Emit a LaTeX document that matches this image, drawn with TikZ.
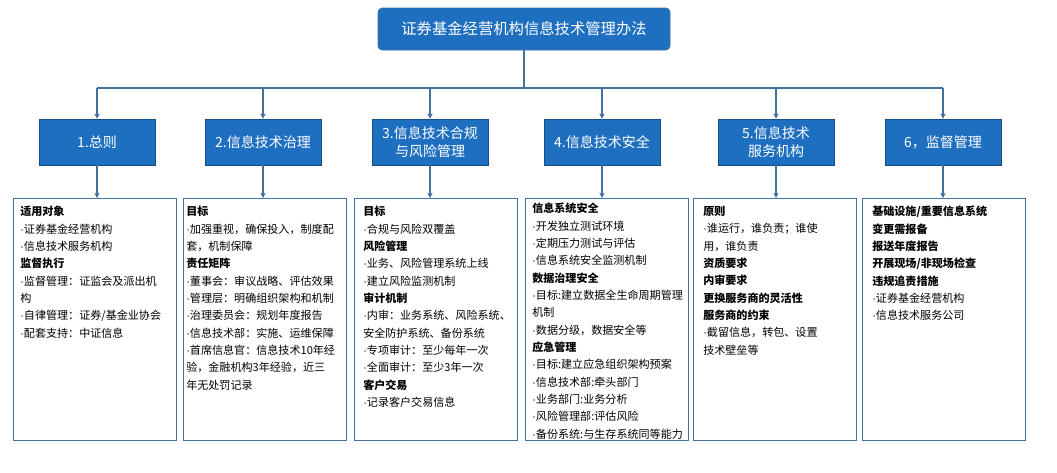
\documentclass[tikz,border=0pt]{standalone}
\usepackage{fontspec}
\setmainfont{Noto Sans CJK SC}
\newfontfamily\latf{Liberation Sans}
\newcommand\bul{{\latf ·}}
\usetikzlibrary{arrows.meta}
\XeTeXlinebreaklocale "zh"
\begin{document}
\begin{tikzpicture}[x=0.75pt,y=-0.75pt,
  hdr/.style={fill=hblue,draw=hblue!70!black,text=white,minimum width=116*0.75pt,minimum height=46*0.75pt,align=center,font=\fontsize{10.5}{13}\selectfont},
  body/.style={draw=lblue,thick,fill=white,minimum width=163*0.75pt,minimum height=242*0.75pt,anchor=north west},
  txt/.style={anchor=north west,align=left,inner sep=0pt,font=\fontsize{8.3}{13}\selectfont},
  conn/.style={draw=lblue,thick},
  arr/.style={conn,-{Stealth[length=4pt,width=4pt]}}]
\definecolor{hblue}{HTML}{1F6FC0}
\definecolor{lblue}{HTML}{41719C}
\useasboundingbox (0,0) rectangle (1057,472);
\node[fill=hblue,draw=lblue,rounded corners=3pt,text=white,minimum width=292*0.75pt,minimum height=42*0.75pt,font=\fontsize{11.5}{14}\selectfont] (t) at (524,29) {证券基金经营机构信息技术管理办法};
\coordinate (j) at (524,88);
\draw[conn] (t.south) -- (j);
\foreach \n/\x/\lab in {1/97/{1.总则},2/263/{2.信息技术治理},3/430/{3.信息技术合规\\与风险管理},4/602/{4.信息技术安全},5/776/{5.信息技术\\服务机构},6/943/{6，监督管理}}{
  \node[hdr] (h\n) at (\x,142) {\lab};
  \coordinate (c\n) at (\x,88);
  \draw[arr] (c\n) -- (h\n.north);
}
\draw[conn] (c1) -- (c6);
\foreach \n/\x in {1/13,2/183,3/354,4/525,5/693,6/862}{
  \node[body] (b\n) at (\x,198) {};
  \draw[arr] (h\n.south) -- (h\n.south |- b\n.north);
}
\node[txt] at ([xshift=7*0.75pt,yshift=-8*0.75pt]b1.north west) {\textbf{适用对象}\\\bul 证券基金经营机构\\\bul 信息技术服务机构\\\textbf{监督执行}\\\bul 监督管理：证监会及派出机\\构\\\bul 自律管理：证券/基金业协会\\\bul 配套支持：中证信息};
\node[txt] at ([xshift=3*0.75pt,yshift=-8*0.75pt]b2.north west) {\textbf{目标}\\\bul 加强重视，确保投入，制度配\\套，机制保障\\\textbf{责任矩阵}\\\bul 董事会：审议战略、评估效果\\\bul 管理层：明确组织架构和机制\\\bul 治理委员会：规划年度报告\\\bul 信息技术部：实施、运维保障\\\bul 首席信息官：信息技术10年经\\验，金融机构3年经验，近三\\年无处罚记录};
\node[txt] at ([xshift=9*0.75pt,yshift=-8*0.75pt]b3.north west) {\textbf{目标}\\\bul 合规与风险双覆盖\\\textbf{风险管理}\\\bul 业务、风险管理系统上线\\\bul 建立风险监测机制\\\textbf{审计机制}\\\bul 内审：业务系统、风险系统、\\安全防护系统、备份系统\\\bul 专项审计：至少每年一次\\\bul 全面审计：至少3年一次\\\textbf{客户交易}\\\bul 记录客户交易信息};
\node[txt] at ([xshift=7*0.75pt,yshift=-5*0.75pt]b4.north west) {\textbf{信息系统安全}\\\bul 开发独立测试环境\\\bul 定期压力测试与评估\\\bul 信息系统安全监测机制\\\textbf{数据治理安全}\\\bul 目标:建立数据全生命周期管理\\机制\\\bul 数据分级，数据安全等\\\textbf{应急管理}\\\bul 目标:建立应急组织架构预案\\\bul 信息技术部:牵头部门\\\bul 业务部门:业务分析\\\bul 风险管理部:评估风险\\\bul 备份系统:与生存系统同等能力};
\node[txt] at ([xshift=10*0.75pt,yshift=-8*0.75pt]b5.north west) {\textbf{原则}\\\bul 谁运行，谁负责；谁使\\用，谁负责\\\textbf{资质要求}\\\textbf{内审要求}\\\textbf{更换服务商的灵活性}\\\textbf{服务商的约束}\\\bul 截留信息，转包、设置\\技术壁垒等};
\node[txt] at ([xshift=10*0.75pt,yshift=-8*0.75pt]b6.north west) {\textbf{基础设施/重要信息系统}\\\textbf{变更需报备}\\\textbf{报送年度报告}\\\textbf{开展现场/非现场检查}\\\textbf{违规追责措施}\\\bul 证券基金经营机构\\\bul 信息技术服务公司};
\end{tikzpicture}
\end{document}
